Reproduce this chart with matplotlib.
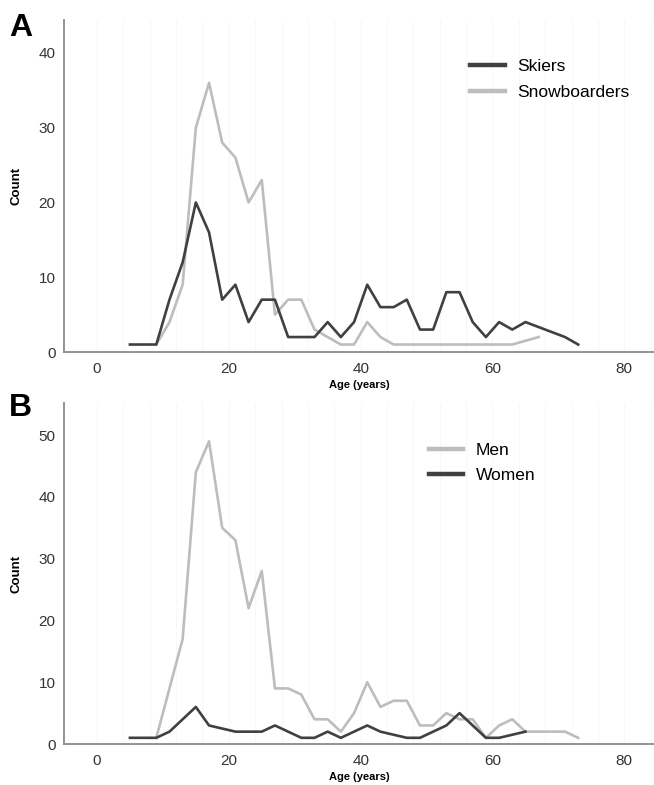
import matplotlib
matplotlib.use("Agg")
import matplotlib.pyplot as plt

plt.rcParams['font.family'] = ['Liberation Sans', 'DejaVu Sans']

# Panel A data
ski_age = [5, 7, 9, 11, 13, 15, 17, 19, 21, 23, 25, 27, 29, 31, 33, 35, 37, 39, 41, 43, 45, 47,
           49, 51, 53, 55, 57, 59, 61, 63, 65, 71, 73]
ski_cnt = [1, 1, 1, 7, 12, 20, 16, 7, 9, 4, 7, 7, 2, 2, 2, 4, 2, 4, 9, 6, 6, 7,
           3, 3, 8, 8, 4, 2, 4, 3, 4, 2, 1]
snow_age = [9, 11, 13, 15, 17, 19, 21, 23, 25, 27, 29, 31, 33, 35, 37, 39, 41, 43, 45, 47,
            49, 51, 53, 55, 57, 59, 61, 63, 67]
snow_cnt = [1, 4, 9, 30, 36, 28, 26, 20, 23, 5, 7, 7, 3, 2, 1, 1, 4, 2, 1, 1,
            1, 1, 1, 1, 1, 1, 1, 1, 2]

# Panel B data
men_age = [9, 11, 13, 15, 17, 19, 21, 23, 25, 27, 29, 31, 33, 35, 37, 39, 41, 43, 45, 47,
           49, 51, 53, 55, 57, 59, 61, 63, 65, 67, 69, 71, 73]
men_cnt = [1, 9, 17, 44, 49, 35, 33, 22, 28, 9, 9, 8, 4, 4, 2, 5, 10, 6, 7, 7,
           3, 3, 5, 4, 4, 1, 3, 4, 2, 2, 2, 2, 1]
women_age = [5, 7, 9, 11, 15, 17, 21, 23, 25, 27, 29, 31, 33, 35, 37, 39, 41, 43, 47,
             49, 51, 53, 55, 57, 59, 61, 65]
women_cnt = [1, 1, 1, 2, 6, 3, 2, 2, 2, 3, 2, 1, 1, 2, 1, 2, 3, 2, 1,
             1, 2, 3, 5, 3, 1, 1, 2]

x_ticks = [0, 20, 40, 60, 80]
DARK = '#404040'
LIGHT = '#bdbdbd'

W, H = 654, 785
fig = plt.figure(figsize=(W / 100, H / 100), dpi=100)


def make_ax(top_px, bottom_px, ymax, yticks):
    left = 64 / W
    ax = fig.add_axes([left, 1 - bottom_px / H, 1 - left, (bottom_px - top_px) / H])
    ax.set_xlim(-5, 84.5)
    ax.set_ylim(0, ymax)
    ax.set_xticks(x_ticks)
    ax.set_yticks(yticks)
    for x in range(0, 85, 4):
        ax.axvline(x, color='#f8f8f8', lw=0.8, zorder=0)
    for s in ['top', 'right']:
        ax.spines[s].set_visible(False)
    for s in ['left', 'bottom']:
        ax.spines[s].set_color('#8a8a8a')
        ax.spines[s].set_linewidth(1.3)
    ax.tick_params(length=0, labelsize=11, labelcolor='#333333')
    ax.tick_params(axis='x', pad=7)
    ax.tick_params(axis='y', pad=6)
    ax.set_xlabel('Age (years)', fontsize=8, fontweight='bold', labelpad=3)
    ax.set_ylabel('Count', fontsize=9.5, fontweight='bold', labelpad=12)
    return ax


def style_legend(leg):
    for h in leg.get_lines():
        h.set_linewidth(3.2)


axA = make_ax(20, 352, 44.4, [0, 10, 20, 30, 40])
axA.plot(ski_age, ski_cnt, color=DARK, lw=1.9, label='Skiers', zorder=3)
axA.plot(snow_age, snow_cnt, color=LIGHT, lw=1.9, label='Snowboarders', zorder=2)
style_legend(axA.legend(loc='upper right', bbox_to_anchor=(0.985, 0.93), frameon=False,
                        fontsize=12.5, handlelength=2.0, handletextpad=0.7, labelspacing=0.6))

axB = make_ax(403, 744, 55.2, [0, 10, 20, 30, 40, 50])
axB.plot(men_age, men_cnt, color=LIGHT, lw=1.9, label='Men', zorder=2)
axB.plot(women_age, women_cnt, color=DARK, lw=1.9, label='Women', zorder=3)
style_legend(axB.legend(loc='upper right', bbox_to_anchor=(0.825, 0.93), frameon=False,
                        fontsize=12.5, handlelength=2.0, handletextpad=0.7, labelspacing=0.6))

fig.text(9 / W, 1 - 28 / H, 'A', fontsize=23, fontweight='heavy', va='center', ha='left')
fig.text(9 / W, 1 - 408 / H, 'B', fontsize=23, fontweight='heavy', va='center', ha='left')

fig.savefig('out.png', dpi=100)
